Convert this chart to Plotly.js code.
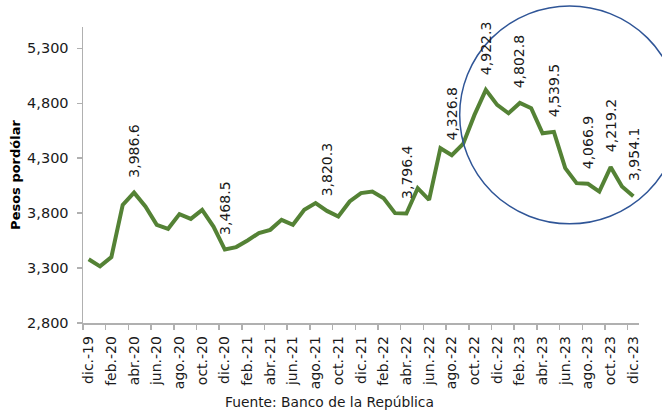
<!DOCTYPE html>
<html><head><meta charset="utf-8">
<script src="https://cdn.plot.ly/plotly-3.0.1.min.js"></script>
<style>html,body{margin:0;padding:0;background:#fff}#chart{width:662px;height:411px}</style>
</head><body><div id="chart"></div>
<script>
const months = ["dic.-19","ene.-20","feb.-20","mar.-20","abr.-20","may.-20","jun.-20","jul.-20","ago.-20","sep.-20","oct.-20","nov.-20",
"dic.-20","ene.-21","feb.-21","mar.-21","abr.-21","may.-21","jun.-21","jul.-21","ago.-21","sep.-21","oct.-21","nov.-21",
"dic.-21","ene.-22","feb.-22","mar.-22","abr.-22","may.-22","jun.-22","jul.-22","ago.-22","sep.-22","oct.-22","nov.-22",
"dic.-22","ene.-23","feb.-23","mar.-23","abr.-23","may.-23","jun.-23","jul.-23","ago.-23","sep.-23","oct.-23","nov.-23","dic.-23"];
const values = [3380,3315,3400,3875,3986.6,3860,3694,3657,3791,3748,3830,3678,
3468.5,3491,3551,3618,3648,3739,3694,3830,3891,3820.3,3769,3906,
3982,3996,3936,3800,3796.4,4027,3921,4391,4326.8,4430,4694,4922.3,
4785,4709,4802.8,4755,4527,4539.5,4209,4073,4066.9,3996,4219.2,4042,3954.1];
const tickLabels = ["dic.-19","feb.-20","abr.-20","jun.-20","ago.-20","oct.-20","dic.-20","feb.-21","abr.-21","jun.-21","ago.-21","oct.-21",
"dic.-21","feb.-22","abr.-22","jun.-22","ago.-22","oct.-22","dic.-22","feb.-23","abr.-23","jun.-23","ago.-23","oct.-23","dic.-23"];
const labeledMonths = ["abr.-20","dic.-20","sep.-21","abr.-22","ago.-22","nov.-22","feb.-23","may.-23","ago.-23","oct.-23","dic.-23"];
const labelTexts = ["3,986.6","3,468.5","3,820.3","3,796.4","4,326.8","4,922.3","4,802.8","4,539.5","4,066.9","4,219.2","3,954.1"];
const yTicks = [2800,3300,3800,4300,4800,5300];
const yTitle = "Pesos pordólar";
const sourceText = "Fuente: Banco de la República";

const xIdx = months.map((m,i)=>i);
const tickIdx = tickLabels.map(t=>months.indexOf(t));
const FONT = "DejaVu Sans, Verdana, sans-serif";
const AX = "#b0b0b0";

const annotations = labeledMonths.map((m,k)=>{
  const i = months.indexOf(m);
  return {x:i, y:values[i], xref:'x', yref:'y', text:labelTexts[k], showarrow:false,
    textangle:-90, xanchor:'center', yanchor:'bottom', yshift:13,
    font:{family:FONT, size:14, color:'#1a1a1a'}};
});
annotations.push({x:0.4437, y:-0.2656, xref:'paper', yref:'paper', text:sourceText, showarrow:false,
  xanchor:'center', yanchor:'middle', font:{family:FONT, size:13.8, color:'#1a1a1a'}});

const trace = {x:xIdx, y:values, type:'scatter', mode:'lines',
  line:{color:'#548235', width:4, shape:'linear'}, hoverinfo:'skip'};

const layout = {
  width:662, height:411, paper_bgcolor:'#fff', plot_bgcolor:'#fff',
  margin:{l:83, r:23, t:27, b:88},
  showlegend:false,
  xaxis:{range:[-0.5,48.5], tickmode:'array', tickvals:tickIdx, ticktext:tickLabels,
    tickangle:-90, ticks:'', showgrid:false, zeroline:false, showline:true, linecolor:AX, linewidth:1.5,
    ticklabelstandoff:6, tickfont:{family:FONT, size:14, color:'#1a1a1a'},
    minor:{tickmode:'array', tickvals:tickIdx.map(i=>i-0.5), ticks:'outside', ticklen:5, tickwidth:1.5, tickcolor:AX, showgrid:false}},
  yaxis:{range:[2800,5494], tickmode:'array', tickvals:yTicks, tickformat:',', ticks:'outside', ticklen:5,
    tickwidth:1.5, tickcolor:AX, showgrid:false, zeroline:false, showline:true, linecolor:AX, linewidth:1.5,
    ticklabelstandoff:5, tickfont:{family:FONT, size:14.5, color:'#1a1a1a'},
    title:{text:'<b>'+yTitle+'</b>', font:{family:FONT, size:13, color:'#000'}, standoff:3}},
  shapes:[{type:'circle', xref:'paper', yref:'paper', x0:0.6775, x1:1.073, y0:0.335, y1:1.071,
    line:{color:'#2f5597', width:1.5}, fillcolor:'rgba(0,0,0,0)'}],
  annotations:annotations
};
Plotly.newPlot('chart',[trace],layout,{displayModeBar:false, staticPlot:true});
</script></body></html>
